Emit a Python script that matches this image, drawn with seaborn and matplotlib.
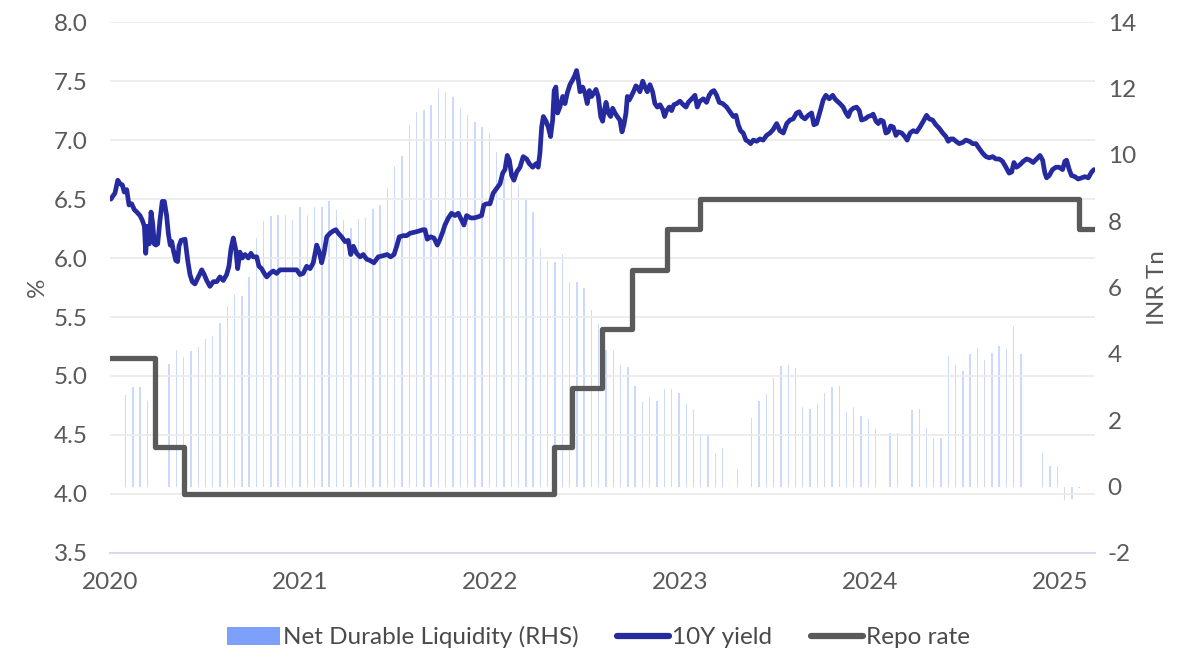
import numpy as np
import pandas as pd
import matplotlib
matplotlib.use("Agg")
import matplotlib.pyplot as plt
import seaborn as sns
from matplotlib.patches import Patch
from matplotlib.lines import Line2D

# ---------------- data ----------------
# 10Y government bond yield (%), observation time in decimal years
yield_year = [
    2020.005, 2020.017, 2020.026, 2020.041, 2020.053, 2020.065, 2020.075, 2020.088, 2020.100, 2020.114,
    2020.128, 2020.141, 2020.158, 2020.170, 2020.181, 2020.188, 2020.198, 2020.207, 2020.216, 2020.225,
    2020.233, 2020.241, 2020.251, 2020.263, 2020.275, 2020.286, 2020.298, 2020.307, 2020.317, 2020.325,
    2020.333, 2020.346, 2020.356, 2020.363, 2020.374, 2020.395, 2020.409, 2020.421, 2020.433, 2020.447,
    2020.465, 2020.483, 2020.496, 2020.509, 2020.526, 2020.544, 2020.562, 2020.579, 2020.596, 2020.614,
    2020.626, 2020.637, 2020.649, 2020.662, 2020.672, 2020.684, 2020.696, 2020.711, 2020.728, 2020.742,
    2020.754, 2020.772, 2020.784, 2020.798, 2020.812, 2020.825, 2020.842, 2020.859, 2020.877, 2020.895,
    2020.921, 2020.956, 2020.983, 2021.000, 2021.017, 2021.035, 2021.053, 2021.070, 2021.088, 2021.102,
    2021.114, 2021.126, 2021.141, 2021.158, 2021.175, 2021.189, 2021.202, 2021.219, 2021.237, 2021.254,
    2021.267, 2021.281, 2021.298, 2021.316, 2021.333, 2021.351, 2021.368, 2021.389, 2021.412, 2021.438,
    2021.459, 2021.477, 2021.495, 2021.509, 2021.523, 2021.544, 2021.562, 2021.579, 2021.605, 2021.628,
    2021.646, 2021.658, 2021.670, 2021.688, 2021.705, 2021.723, 2021.737, 2021.751, 2021.763, 2021.781,
    2021.798, 2021.816, 2021.833, 2021.851, 2021.863, 2021.877, 2021.898, 2021.916, 2021.938, 2021.956,
    2021.968, 2021.983, 2022.000, 2022.017, 2022.035, 2022.053, 2022.067, 2022.079, 2022.091, 2022.102,
    2022.114, 2022.126, 2022.141, 2022.158, 2022.175, 2022.193, 2022.207, 2022.225, 2022.242, 2022.254,
    2022.263, 2022.272, 2022.281, 2022.295, 2022.307, 2022.319, 2022.330, 2022.338, 2022.347, 2022.356,
    2022.368, 2022.383, 2022.395, 2022.407, 2022.421, 2022.435, 2022.447, 2022.456, 2022.465, 2022.474,
    2022.488, 2022.500, 2022.512, 2022.523, 2022.535, 2022.547, 2022.558, 2022.570, 2022.583, 2022.593,
    2022.602, 2022.611, 2022.623, 2022.635, 2022.646, 2022.658, 2022.670, 2022.684, 2022.695, 2022.705,
    2022.716, 2022.723, 2022.733, 2022.746, 2022.758, 2022.768, 2022.781, 2022.789, 2022.804, 2022.816,
    2022.828, 2022.842, 2022.856, 2022.868, 2022.881, 2022.895, 2022.909, 2022.919, 2022.930, 2022.944,
    2022.956, 2022.968, 2022.983, 2023.000, 2023.017, 2023.032, 2023.044, 2023.062, 2023.079, 2023.091,
    2023.105, 2023.123, 2023.140, 2023.154, 2023.167, 2023.179, 2023.193, 2023.207, 2023.225, 2023.246,
    2023.263, 2023.281, 2023.295, 2023.307, 2023.319, 2023.333, 2023.347, 2023.359, 2023.372, 2023.386,
    2023.404, 2023.421, 2023.438, 2023.456, 2023.474, 2023.491, 2023.509, 2023.526, 2023.544, 2023.562,
    2023.579, 2023.596, 2023.614, 2023.628, 2023.641, 2023.658, 2023.675, 2023.693, 2023.705, 2023.719,
    2023.737, 2023.754, 2023.768, 2023.786, 2023.804, 2023.816, 2023.828, 2023.842, 2023.859, 2023.874,
    2023.886, 2023.898, 2023.912, 2023.930, 2023.944, 2023.956, 2023.974, 2023.991, 2024.009, 2024.017,
    2024.032, 2024.044, 2024.056, 2024.070, 2024.084, 2024.096, 2024.109, 2024.123, 2024.137, 2024.149,
    2024.167, 2024.184, 2024.196, 2024.211, 2024.228, 2024.246, 2024.263, 2024.281, 2024.298, 2024.312,
    2024.330, 2024.347, 2024.365, 2024.383, 2024.400, 2024.412, 2024.425, 2024.438, 2024.453, 2024.470,
    2024.488, 2024.505, 2024.523, 2024.541, 2024.558, 2024.575, 2024.593, 2024.611, 2024.628, 2024.646,
    2024.663, 2024.681, 2024.698, 2024.716, 2024.733, 2024.746, 2024.758, 2024.772, 2024.789, 2024.807,
    2024.825, 2024.842, 2024.859, 2024.877, 2024.895, 2024.909, 2024.921, 2024.930, 2024.944, 2024.961,
    2024.979, 2024.996, 2025.014, 2025.026, 2025.035, 2025.049, 2025.061, 2025.079, 2025.096, 2025.114,
    2025.132, 2025.149, 2025.167, 2025.179,
]
yield_pct = [
    6.50, 6.53, 6.55, 6.66, 6.63, 6.62, 6.56, 6.58, 6.45, 6.46,
    6.41, 6.39, 6.36, 6.32, 6.27, 6.04, 6.27, 6.12, 6.39, 6.29,
    6.12, 6.11, 6.12, 6.32, 6.48, 6.48, 6.36, 6.21, 6.11, 6.14,
    6.07, 5.98, 5.97, 6.10, 6.15, 6.16, 5.98, 5.86, 5.80, 5.78,
    5.84, 5.90, 5.86, 5.81, 5.76, 5.80, 5.80, 5.84, 5.81, 5.86,
    5.93, 6.08, 6.17, 6.07, 5.91, 6.05, 6.00, 6.03, 6.00, 6.04,
    6.01, 6.01, 5.93, 5.91, 5.87, 5.84, 5.87, 5.89, 5.87, 5.90,
    5.90, 5.90, 5.90, 5.86, 5.87, 5.93, 5.91, 5.96, 6.11, 6.05,
    5.96, 6.04, 6.18, 6.21, 6.23, 6.24, 6.21, 6.18, 6.14, 6.15,
    6.03, 6.10, 6.04, 6.01, 6.03, 5.99, 5.98, 5.96, 6.01, 6.02,
    6.03, 6.01, 6.03, 6.10, 6.18, 6.19, 6.19, 6.21, 6.22, 6.23,
    6.24, 6.24, 6.16, 6.18, 6.17, 6.11, 6.16, 6.22, 6.28, 6.34,
    6.38, 6.36, 6.38, 6.32, 6.28, 6.36, 6.34, 6.34, 6.35, 6.36,
    6.45, 6.46, 6.46, 6.55, 6.59, 6.63, 6.72, 6.75, 6.87, 6.83,
    6.70, 6.66, 6.73, 6.77, 6.86, 6.84, 6.80, 6.77, 6.80, 6.77,
    6.89, 7.11, 7.20, 7.16, 7.11, 7.03, 7.17, 7.42, 7.45, 7.23,
    7.28, 7.37, 7.31, 7.40, 7.47, 7.51, 7.55, 7.59, 7.51, 7.41,
    7.45, 7.40, 7.31, 7.42, 7.37, 7.40, 7.43, 7.37, 7.20, 7.16,
    7.25, 7.32, 7.23, 7.20, 7.27, 7.23, 7.20, 7.17, 7.07, 7.13,
    7.23, 7.37, 7.34, 7.38, 7.42, 7.46, 7.44, 7.41, 7.50, 7.45,
    7.41, 7.47, 7.41, 7.31, 7.28, 7.30, 7.26, 7.20, 7.25, 7.28,
    7.25, 7.30, 7.31, 7.33, 7.30, 7.28, 7.32, 7.35, 7.38, 7.28,
    7.33, 7.35, 7.32, 7.38, 7.41, 7.42, 7.38, 7.32, 7.31, 7.28,
    7.24, 7.20, 7.21, 7.13, 7.08, 7.06, 7.00, 6.99, 6.97, 7.00,
    6.99, 7.01, 7.00, 7.04, 7.06, 7.09, 7.14, 7.08, 7.06, 7.14,
    7.17, 7.18, 7.23, 7.24, 7.20, 7.18, 7.21, 7.23, 7.13, 7.14,
    7.24, 7.34, 7.38, 7.35, 7.38, 7.35, 7.33, 7.31, 7.28, 7.23,
    7.20, 7.25, 7.27, 7.28, 7.25, 7.17, 7.18, 7.20, 7.21, 7.22,
    7.16, 7.14, 7.17, 7.16, 7.06, 7.07, 7.12, 7.11, 7.04, 7.07,
    7.06, 7.03, 7.00, 7.06, 7.08, 7.07, 7.11, 7.16, 7.21, 7.18,
    7.17, 7.13, 7.10, 7.06, 7.03, 6.99, 7.01, 7.01, 6.99, 6.97,
    6.98, 7.00, 6.99, 6.97, 6.97, 6.93, 6.89, 6.86, 6.85, 6.86,
    6.84, 6.84, 6.82, 6.77, 6.72, 6.73, 6.81, 6.77, 6.79, 6.82,
    6.84, 6.83, 6.81, 6.84, 6.87, 6.83, 6.72, 6.68, 6.70, 6.75,
    6.77, 6.77, 6.75, 6.82, 6.83, 6.75, 6.70, 6.69, 6.67, 6.68,
    6.69, 6.68, 6.73, 6.75,
]

# RBI policy repo rate (%), effective dates of each change
repo_dates = ["2020-01-01", "2020-03-27", "2020-05-22", "2022-05-04", "2022-06-08",
              "2022-08-05", "2022-09-30", "2022-12-07", "2023-02-08", "2025-02-07", "2025-03-07"]
repo_rates = [5.15, 4.40, 4.00, 4.40, 4.90, 5.40, 5.90, 6.25, 6.50, 6.25, 6.25]

# Net durable liquidity (INR trillion), fortnightly observations
liquidity_start = "2020-01-31"
liquidity_inr_tn = [
    2.76, 3.01, 3.00, 2.58, np.nan, np.nan, 3.68, 4.12, 3.92, 4.10,
    4.20, 4.45, 4.54, 4.93, 5.45, 5.82, 5.74, 6.32, 7.50, 8.00,
    8.15, 8.20, 8.20, 8.05, 8.43, 8.20, 8.43, 8.43, 8.60, 8.33,
    8.05, 7.78, 8.06, 8.10, 8.38, 8.50, 8.99, 9.66, 9.96, 10.90,
    11.28, 11.35, 11.50, 12.00, 11.88, 11.75, 11.40, 11.20, 10.98, 10.85,
    10.65, 10.09, 9.30, 9.20, 9.10, 8.68, 8.27, 7.16, 6.80, 6.78,
    7.00, 6.17, 6.17, 5.99, 5.32, 4.90, 4.12, 4.12, 3.65, 3.59,
    3.04, 2.54, 2.69, 2.58, 2.93, 2.93, 2.82, 2.48, 2.31, 1.58,
    1.55, 0.98, 1.17, np.nan, 0.53, np.nan, 2.07, 2.58, 2.80, 3.27,
    3.63, 3.66, 3.56, 2.40, 2.34, 2.49, 2.82, 3.01, 3.03, 2.26,
    2.41, 2.13, 2.04, 1.74, np.nan, 1.62, 1.61, np.nan, 2.31, 2.33,
    1.78, 1.47, 1.47, 3.93, 3.65, 3.48, 3.99, 4.17, 3.83, 4.03,
    4.24, 4.15, 4.85, 3.99, np.nan, np.nan, 1.01, 0.63, 0.63, -0.42,
    -0.37, -0.03,
]

year_ticks = [2020, 2021, 2022, 2023, 2024, 2025]
pct_ticks = [3.5, 4.0, 4.5, 5.0, 5.5, 6.0, 6.5, 7.0, 7.5, 8.0]
inr_ticks = [-2, 0, 2, 4, 6, 8, 10, 12, 14]


def decimal_year(dates):
    d = pd.DatetimeIndex(pd.to_datetime(dates))
    days = np.where(d.is_leap_year, 366.0, 365.0)
    return (d.year + (d.dayofyear - 1) / days).to_numpy()


liq_dates = pd.date_range(liquidity_start, periods=len(liquidity_inr_tn), freq="14D")
liq_df = pd.DataFrame({"t": decimal_year(liq_dates), "value": liquidity_inr_tn}).dropna()
yield_df = pd.DataFrame({"t": yield_year, "value": yield_pct})
repo_df = pd.DataFrame({"t": decimal_year(repo_dates), "value": repo_rates})

# ---------------- styling ----------------
sns.set_theme(style="white")
plt.rcParams["font.family"] = ["Lato", "DejaVu Sans"]

TEXT = "#595959"
AXIS = "#d8d8ee"
BAR = "#7DA0FA"
YIELD = "#252A9E"
REPO = "#5A5A5A"
FS = 17.5

fig = plt.figure(figsize=(11.79, 6.52), dpi=100)
ax = fig.add_axes([0.0933, 0.152, 0.8355, 0.814])
ax2 = ax.twinx()

# liquidity bars on the right-hand axis, kept behind the lines
ax2.bar(liq_df["t"], liq_df["value"], width=0.0072, color=BAR, alpha=0.40, linewidth=0)
ax.set_zorder(ax2.get_zorder() + 1)
ax.patch.set_visible(False)

sns.lineplot(data=repo_df, x="t", y="value", ax=ax, color=REPO, linewidth=3.8,
             drawstyle="steps-post", estimator=None, sort=False)
sns.lineplot(data=yield_df, x="t", y="value", ax=ax, color=YIELD, linewidth=3.4,
             estimator=None, sort=False)

ax.set_xlim(2020, 2025.185)
ax.set_ylim(3.5, 8.0)
ax2.set_ylim(-2, 14)

ax.set_xticks(year_ticks)
ax.set_xticklabels([str(y) for y in year_ticks])
ax.set_yticks(pct_ticks)
ax.set_yticklabels([f"{v:.1f}" for v in pct_ticks])
ax2.set_yticks(inr_ticks)
ax2.set_yticklabels([str(v) for v in inr_ticks])

ax.yaxis.grid(True, color="#ececec", linewidth=1.3)
ax.xaxis.grid(False)

for side in ["left", "right", "top"]:
    ax.spines[side].set_visible(False)
    ax2.spines[side].set_visible(False)
ax2.spines["bottom"].set_visible(False)
ax.spines["bottom"].set_color(AXIS)
ax.spines["bottom"].set_linewidth(1.5)

ax.tick_params(axis="x", length=7, width=1.3, color=AXIS, labelcolor=TEXT, labelsize=FS, pad=7)
ax.tick_params(axis="y", length=0, labelcolor=TEXT, labelsize=FS, pad=16)
ax2.tick_params(axis="y", length=0, labelcolor=TEXT, labelsize=FS, pad=9)

ax.set_xlabel("")
ax.set_ylabel("%", color=TEXT, fontsize=FS, labelpad=4)
ax2.set_ylabel("INR Tn", color=TEXT, fontsize=FS, labelpad=8)

handles = [
    Patch(facecolor=BAR, edgecolor="none"),
    Line2D([0], [0], color=YIELD, linewidth=4.5, solid_capstyle="round"),
    Line2D([0], [0], color=REPO, linewidth=4.5, solid_capstyle="round"),
]
labels = ["Net Durable Liquidity (RHS)", "10Y yield", "Repo rate"]
leg = fig.legend(handles, labels, loc="lower center", bbox_to_anchor=(0.508, -0.028), ncol=3,
                 frameon=False, fontsize=FS, handlelength=2.15, handleheight=0.8,
                 handletextpad=0.12, columnspacing=1.6)
for t in leg.get_texts():
    t.set_color("#4a4a4a")

fig.savefig("out.png", dpi=100)
